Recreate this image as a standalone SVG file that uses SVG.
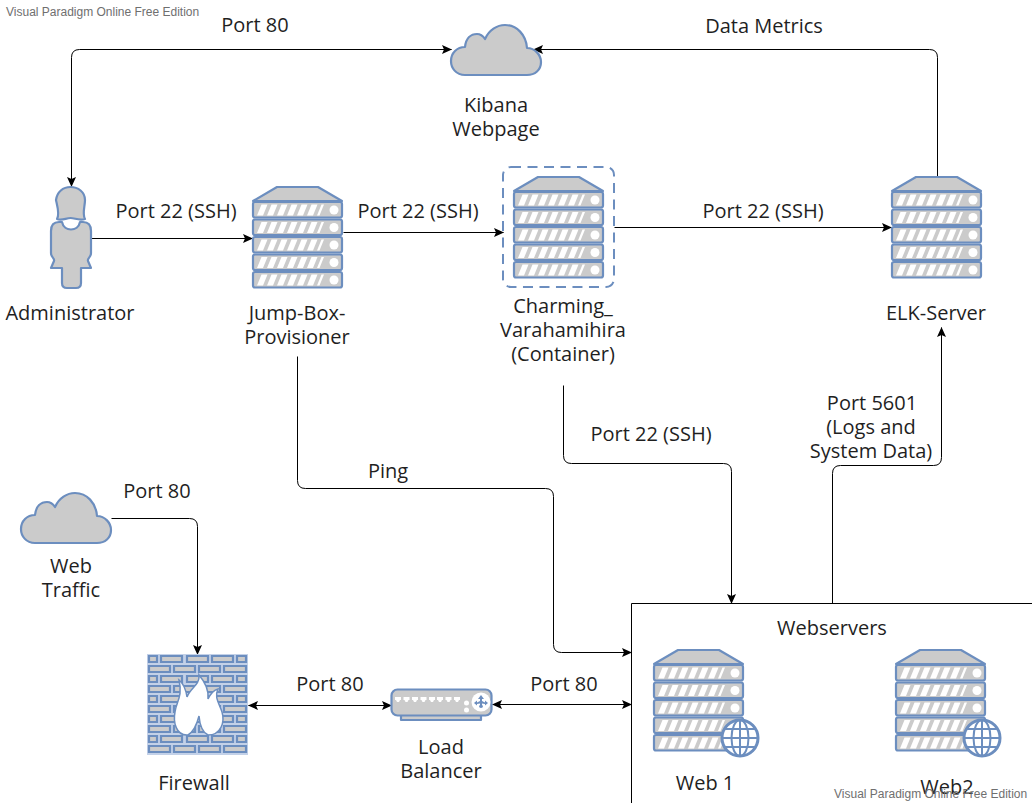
<svg xmlns="http://www.w3.org/2000/svg" xmlns:xlink="http://www.w3.org/1999/xlink" width="1032" height="803" viewBox="0 0 1032 803">
<style>
text{font-family:"Open Sans","Noto Sans","DejaVu Sans",sans-serif;font-size:20px;fill:#1f1f1f;text-anchor:middle}
.wm{font-family:"Liberation Sans",Arial,sans-serif;font-size:12px;fill:#6f6f6f;text-anchor:start}
.s{fill:#cbcbcb;stroke:#6c8ebf;stroke-width:2.200;stroke-linejoin:round}
.c{fill:none;stroke:#000;stroke-width:1}
.w{fill:#fff}
.g{fill:none;stroke:#6c8ebf;stroke-width:2}
</style>
<defs>
<marker id="a" viewBox="0 0 10 10" refX="9.500" refY="5" markerWidth="10" markerHeight="10" markerUnits="userSpaceOnUse" orient="auto-start-reverse"><path d="M0,0.500 L10,5 L0,9.500 L2,5Z" fill="#000"/></marker>
<g id="row"><rect x="1" y="0" width="89" height="15.500" rx="2" class="s"/><path class="w" d="M5,13.500 L9.500,2.500 H15.500 L11,13.500Z M15,13.500 L19.500,2.500 H25.500 L21,13.500Z M25,13.500 L29.500,2.500 H35.500 L31,13.500Z M35,13.500 L39.500,2.500 H45.500 L41,13.500Z M45,13.500 L49.500,2.500 H55.500 L51,13.500Z M55,13.500 L59.500,2.500 H65.500 L61,13.500Z M65,13.500 L69.500,2.500 H72 L67.500,13.500Z"/><circle class="w" cx="82" cy="8" r="4.500"/></g>
<g id="server"><path class="s" d="M1,14 L25,0 H66 L90,14Z"/><use xlink:href="#row" href="#row" y="15"/><use xlink:href="#row" href="#row" y="32.500"/><use xlink:href="#row" href="#row" y="50"/><use xlink:href="#row" href="#row" y="67.500"/><use xlink:href="#row" href="#row" y="85"/></g>
<path id="cloud" class="s" d="M14,50 C5,50 0,43 0,36 C0,28 6,22 14,22 C15,13 20,9 26,9 C29,9 32,11 34,14 C38,5 46,0 54,0 C66,0 75,10 76,23 C84,23 90,30 90,37 C90,45 84,50 76,50Z"/>
<g id="globe"><circle cx="0" cy="0" r="18" fill="#fff" stroke="#6c8ebf" stroke-width="3"/><ellipse class="g" rx="8.500" ry="18"/><path class="g" d="M0,-18V18M-18,0H18M-15.500,-9H15.500M-15.500,9H15.500"/></g>
</defs>
<g id="connectors" transform="translate(0.500 0.500)">
<path class="c" marker-start="url(#a)" marker-end="url(#a)" d="M451,49 H79 Q71,49 71,57 V186"/>
<path class="c" marker-end="url(#a)" d="M937,177 V57 Q937,49 929,49 H533"/>
<path class="c" marker-end="url(#a)" d="M91,238 H252"/>
<path class="c" marker-end="url(#a)" d="M343,232 H503"/>
<path class="c" marker-end="url(#a)" d="M614,227 H891"/>
<path class="c" marker-end="url(#a)" d="M297,356 V480 Q297,488 305,488 H545 Q553,488 553,496 V644 Q553,652 561,652 H631"/>
<path class="c" marker-end="url(#a)" d="M563,385 V455 Q563,463 571,463 H723 Q731,463 731,471 V603"/>
<path class="c" marker-end="url(#a)" d="M832,603 V473 Q832,465 840,465 H933 Q941,465 941,457 V327"/>
<path class="c" marker-end="url(#a)" d="M111,518 H189 Q197,518 197,526 V654"/>
<path class="c" marker-start="url(#a)" marker-end="url(#a)" d="M248,705 H391"/>
<path class="c" marker-start="url(#a)" marker-end="url(#a)" d="M492,704 H631"/>
</g>
<g id="kibana"><use xlink:href="#cloud" href="#cloud" x="451" y="25"/><text x="496" y="112">Kibana</text><text x="496" y="136">Webpage</text></g>
<g id="administrator">
<path class="s" d="M57,219 C60,214 57,205 56,200 C57,192 63,187 70.500,187 C78,187 85,192 85,200 C85,206 82,214 85,219 C79,221 75,218 70.500,218 C66,218 62,221 57,219Z"/>
<path class="s" d="M59,222 C53,222 51,226 51,231 V253 C51,258 55,258 54,261 L51,268 H62 V283 Q62,288 67,288 H76 Q81,288 81,283 V268 H91 L88,261 C87,258 91,258 91,253 V231 C91,226 89,222 83,222 H80 C78,232 64,232 62,222Z"/>
<text x="70" y="320">Administrator</text></g>
<g id="jump-box"><use xlink:href="#server" href="#server" x="252" y="187"/><text x="297" y="320">Jump-Box-</text><text x="297" y="344">Provisioner</text></g>
<g id="charming"><rect x="503" y="167" width="111" height="120" rx="8" fill="none" stroke="#6c8ebf" stroke-width="2" stroke-dasharray="10 6.500"/><use xlink:href="#server" href="#server" x="513" y="177"/><text x="563" y="313">Charming_</text><text x="563" y="337">Varahamihira</text><text x="563" y="361">(Container)</text></g>
<g id="elk-server"><use xlink:href="#server" href="#server" x="891" y="177"/><text x="936" y="320">ELK-Server</text></g>
<g id="web-traffic"><use xlink:href="#cloud" href="#cloud" x="21" y="493"/><text x="71" y="573">Web</text><text x="71" y="597">Traffic</text></g>
<g id="firewall">
<rect x="147" y="654" width="101" height="101" fill="#c3d1e8"/>
<path fill="#cbcbcb" stroke="#6c8ebf" stroke-width="2.200" d="M149,656h8v6h-8zM161,656h21v6h-21zM187,656h21v6h-21zM212,656h21v6h-21zM237,656h9v6h-9z M149,666h21v6h-21zM174,666h21v6h-21zM199,666h21v6h-21zM224,666h22v6h-22z M149,676h8v6h-8zM161,676h21v6h-21zM187,676h21v6h-21zM212,676h21v6h-21zM237,676h9v6h-9z M149,686h21v6h-21zM174,686h21v6h-21zM199,686h21v6h-21zM224,686h22v6h-22z M149,696h8v6h-8zM161,696h21v6h-21zM187,696h21v6h-21zM212,696h21v6h-21zM237,696h9v6h-9z M149,706h21v6h-21zM174,706h21v6h-21zM199,706h21v6h-21zM224,706h22v6h-22z M149,716h8v6h-8zM161,716h21v6h-21zM187,716h21v6h-21zM212,716h21v6h-21zM237,716h9v6h-9z M149,726h21v6h-21zM174,726h21v6h-21zM199,726h21v6h-21zM224,726h22v6h-22z M149,736h8v6h-8zM161,736h21v6h-21zM187,736h21v6h-21zM212,736h21v6h-21zM237,736h9v6h-9z M149,746h21v6h-21zM174,746h21v6h-21zM199,746h21v6h-21zM224,746h22v6h-22z"/>
<path fill="#fff" stroke="#6c8ebf" stroke-width="1.500" d="M188,735 C176,736 173,722 175,712 C176,702 183,697 179,680 C184,684 186,690 187,697 C190,688 200,685 199,675 C205,682 209,690 208,699 C211,693 214,690 218,689 C214,697 219,703 222,712 C225,722 221,735 208,735 C204,733 200,728 199,716 C197,724 193,732 188,735Z"/>
<text x="194" y="790">Firewall</text></g>
<g id="load-balancer">
<rect x="401" y="715" width="80" height="5" class="s"/>
<rect x="391.500" y="689.500" width="100" height="26" rx="6" class="s"/>
<path class="w" d="M395,697h6v3h-1l-1,2h-2l-1,-2h-1z M403.500,697h6v3h-1l-1,2h-2l-1,-2h-1z M412,697h6v3h-1l-1,2h-2l-1,-2h-1z M420.500,697h6v3h-1l-1,2h-2l-1,-2h-1z M429,697h6v3h-1l-1,2h-2l-1,-2h-1z M437,697h6v3h-1l-1,2h-2l-1,-2h-1z M445.500,697h6v3h-1l-1,2h-2l-1,-2h-1z M454,697h6v3h-1l-1,2h-2l-1,-2h-1z"/>
<circle class="w" cx="466.500" cy="703" r="2.500"/><circle class="w" cx="466.500" cy="710" r="2.500"/>
<circle class="w" cx="481" cy="702" r="9.500"/>
<path fill="#6c8ebf" d="M481,695 L484,699 H482 V701 L485,702.500 V700.500 L488,703 L485,705.500 V704 L482,703.500 V705 L483,706 A2,2 0 1 1 479,706 L480,705 V703.500 L477,704 V705.500 L474,703 L477,700.500 V702.500 L480,701 V699 H478Z"/>
<text x="441" y="754">Load</text><text x="441" y="778">Balancer</text></g>
<g id="webservers"><path d="M1032,603.500 H631.500 V803" class="c"/><text x="832" y="635">Webservers</text></g>
<g id="web1"><use xlink:href="#server" href="#server" x="653" y="650"/><use xlink:href="#globe" href="#globe" x="740" y="738"/><text x="705" y="790">Web 1</text></g>
<g id="web2"><use xlink:href="#server" href="#server" x="895" y="650"/><use xlink:href="#globe" href="#globe" x="982" y="738"/><text x="947" y="794">Web2</text></g>
<g id="labels">
<text x="255" y="32">Port 80</text>
<text x="764" y="33">Data Metrics</text>
<text x="176" y="218">Port 22 (SSH)</text>
<text x="418" y="218">Port 22 (SSH)</text>
<text x="763" y="218">Port 22 (SSH)</text>
<text x="872" y="410">Port 5601</text><text x="871" y="434">(Logs and</text><text x="871" y="458">System Data)</text>
<text x="651" y="441">Port 22 (SSH)</text>
<text x="388" y="478">Ping</text>
<text x="157" y="498">Port 80</text>
<text x="330" y="691">Port 80</text>
<text x="564" y="691">Port 80</text>
</g>
<text class="wm" x="6" y="16">Visual Paradigm Online Free Edition</text>
<text class="wm" x="834" y="798">Visual Paradigm Online Free Edition</text>
</svg>
